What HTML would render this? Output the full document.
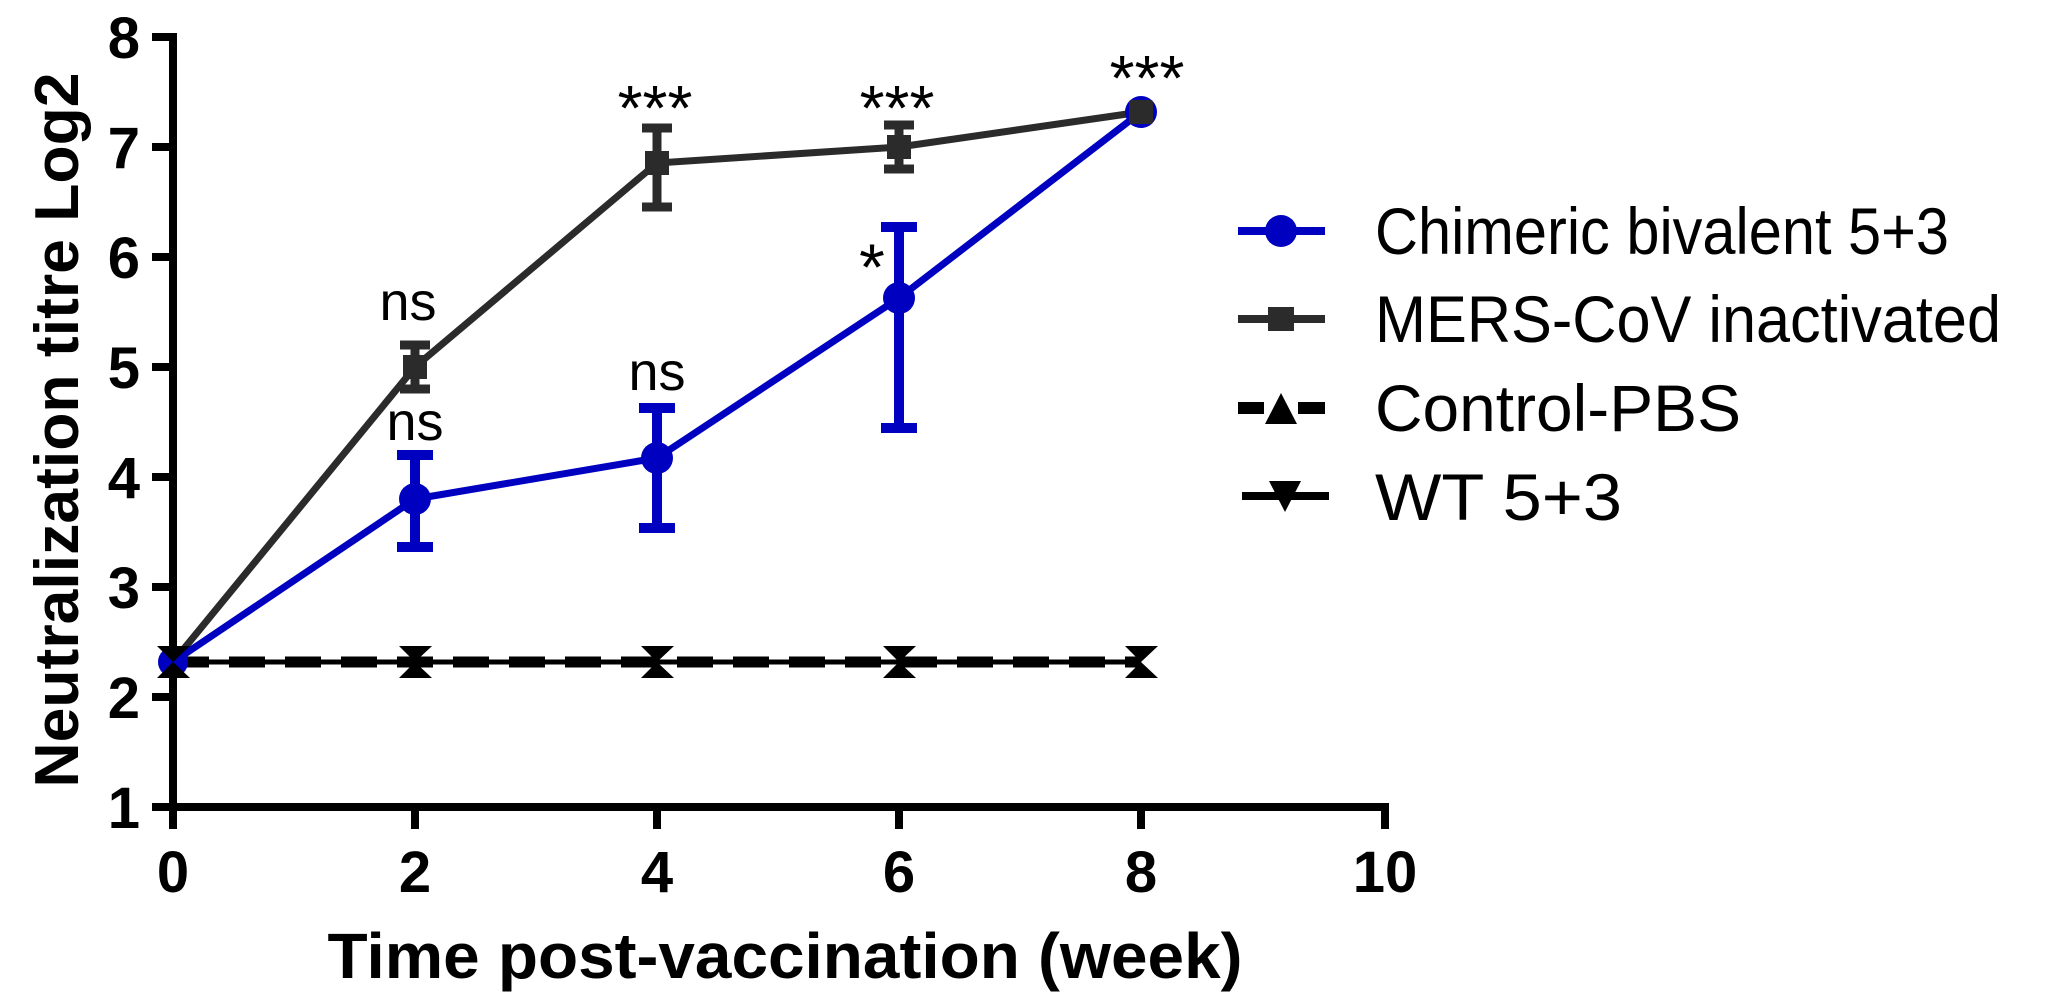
<!DOCTYPE html>
<html><head><meta charset="utf-8"><style>
html,body{margin:0;padding:0;background:#fff;}
svg{display:block;}
text{font-family:"Liberation Sans",Arial,sans-serif;}
</style></head><body>
<svg width="2049" height="1005" viewBox="0 0 2049 1005" xmlns="http://www.w3.org/2000/svg">
<rect width="2049" height="1005" fill="#fff"/>
<g stroke="#000" stroke-width="8" fill="none">
<line x1="173" y1="33" x2="173" y2="811"/>
<line x1="169" y1="807" x2="1389" y2="807"/>
<line x1="152" y1="37" x2="173" y2="37"/>
<line x1="152" y1="147" x2="173" y2="147"/>
<line x1="152" y1="257" x2="173" y2="257"/>
<line x1="152" y1="367" x2="173" y2="367"/>
<line x1="152" y1="477" x2="173" y2="477"/>
<line x1="152" y1="587" x2="173" y2="587"/>
<line x1="152" y1="697" x2="173" y2="697"/>
<line x1="152" y1="807" x2="173" y2="807"/>
<line x1="173" y1="807" x2="173" y2="829"/>
<line x1="415" y1="807" x2="415" y2="829"/>
<line x1="657" y1="807" x2="657" y2="829"/>
<line x1="899" y1="807" x2="899" y2="829"/>
<line x1="1141" y1="807" x2="1141" y2="829"/>
<line x1="1385" y1="807" x2="1385" y2="829"/>
</g>
<g font-weight="bold" font-size="58" text-anchor="end" fill="#000">
<text x="140" y="58">8</text>
<text x="140" y="168">7</text>
<text x="140" y="278">6</text>
<text x="140" y="388">5</text>
<text x="140" y="498">4</text>
<text x="140" y="608">3</text>
<text x="140" y="718">2</text>
<text x="140" y="828">1</text>
</g>
<g font-weight="bold" font-size="58" text-anchor="middle" fill="#000">
<text x="173" y="892">0</text>
<text x="415" y="892">2</text>
<text x="657" y="892">4</text>
<text x="899" y="892">6</text>
<text x="1141" y="892">8</text>
<text x="1385" y="892">10</text>
</g>
<text x="785" y="978" font-weight="bold" font-size="64" text-anchor="middle" textLength="915" lengthAdjust="spacingAndGlyphs">Time post-vaccination (week)</text>
<text transform="translate(78,430) rotate(-90)" font-weight="bold" font-size="62" text-anchor="middle" textLength="715" lengthAdjust="spacingAndGlyphs">Neutralization titre Log2</text>

<line x1="173" y1="662" x2="1141" y2="662" stroke="#000" stroke-width="5"/>
<line x1="173" y1="662" x2="1141" y2="662" stroke="#000" stroke-width="11" stroke-dasharray="36 20"/>

<polyline points="173,662 415,367 657,163 899,147 1141,112" fill="none" stroke="#2b2b2b" stroke-width="7"/>
<g stroke="#2b2b2b" stroke-width="9" fill="none">
<line x1="415" y1="345" x2="415" y2="389"/><line x1="400" y1="345" x2="430" y2="345"/><line x1="400" y1="389" x2="430" y2="389"/>
<line x1="657" y1="128" x2="657" y2="207"/><line x1="642" y1="128" x2="672" y2="128"/><line x1="642" y1="207" x2="672" y2="207"/>
<line x1="899" y1="125" x2="899" y2="169"/><line x1="884" y1="125" x2="914" y2="125"/><line x1="884" y1="169" x2="914" y2="169"/>
</g>
<g fill="#2b2b2b">
<rect x="403" y="355" width="24" height="24"/><rect x="645" y="151" width="24" height="24"/><rect x="887" y="135" width="24" height="24"/>
</g>

<polyline points="173,662 415,499 657,458 899,298 1141,112" fill="none" stroke="#0000c0" stroke-width="7"/>
<g stroke="#0000c0" stroke-width="10" fill="none">
<line x1="415" y1="455" x2="415" y2="547"/><line x1="397" y1="455" x2="433" y2="455"/><line x1="397" y1="547" x2="433" y2="547"/>
<line x1="657" y1="408" x2="657" y2="528"/><line x1="639" y1="408" x2="675" y2="408"/><line x1="639" y1="528" x2="675" y2="528"/>
<line x1="899" y1="227" x2="899" y2="428"/><line x1="881" y1="227" x2="917" y2="227"/><line x1="881" y1="428" x2="917" y2="428"/>
</g>
<g fill="#0000c0">
<circle cx="173" cy="662" r="15"/><circle cx="415" cy="499" r="16"/><circle cx="657" cy="458" r="16"/><circle cx="899" cy="298" r="16"/><circle cx="1141" cy="112" r="16"/>
</g>
<rect x="1129" y="100" width="24" height="24" rx="3" fill="#2b2b2b"/>

<g fill="#000">
<path d="M157,646 L190,646 L173,662 Z M157,678 L190,678 L173,662 Z"/>
<path d="M399,646 L432,646 L415,662 Z M399,678 L432,678 L415,662 Z"/>
<path d="M641,646 L674,646 L657,662 Z M641,678 L674,678 L657,662 Z"/>
<path d="M883,646 L916,646 L899,662 Z M883,678 L916,678 L899,662 Z"/>
<path d="M1125,646 L1158,646 L1141,662 Z M1125,678 L1158,678 L1141,662 Z"/>
</g>

<g font-size="54" text-anchor="middle" fill="#000">
<text x="408" y="320">ns</text>
<text x="415" y="440">ns</text>
<text x="657" y="390">ns</text>
<text x="872" y="290" font-size="66">*</text>
</g>
<g font-size="64" text-anchor="middle" fill="#000">
<text x="655" y="130">***</text>
<text x="897" y="130">***</text>
<text x="1147" y="100">***</text>
</g>

<line x1="1238" y1="231" x2="1325" y2="231" stroke="#0000c0" stroke-width="8"/>
<circle cx="1281" cy="231" r="16" fill="#0000c0"/>
<line x1="1238" y1="319" x2="1325" y2="319" stroke="#2b2b2b" stroke-width="8"/>
<rect x="1268" y="307" width="26" height="24" fill="#2b2b2b"/>
<line x1="1238" y1="408" x2="1264" y2="408" stroke="#000" stroke-width="12"/>
<line x1="1298" y1="408" x2="1325" y2="408" stroke="#000" stroke-width="12"/>
<path d="M1281,393 L1297,424 L1265,424 Z" fill="#000"/>
<line x1="1242" y1="496" x2="1329" y2="496" stroke="#000" stroke-width="8"/>
<path d="M1269,481 L1301,481 L1285,512 Z" fill="#000"/>
<g font-size="66" fill="#000">
<text x="1375" y="254" textLength="574" lengthAdjust="spacingAndGlyphs">Chimeric bivalent 5+3</text>
<text x="1375" y="342" textLength="626" lengthAdjust="spacingAndGlyphs">MERS-CoV inactivated</text>
<text x="1375" y="431" textLength="366" lengthAdjust="spacingAndGlyphs">Control-PBS</text>
<text x="1375" y="520" textLength="247" lengthAdjust="spacingAndGlyphs">WT 5+3</text>
</g>
</svg>
</body></html>
